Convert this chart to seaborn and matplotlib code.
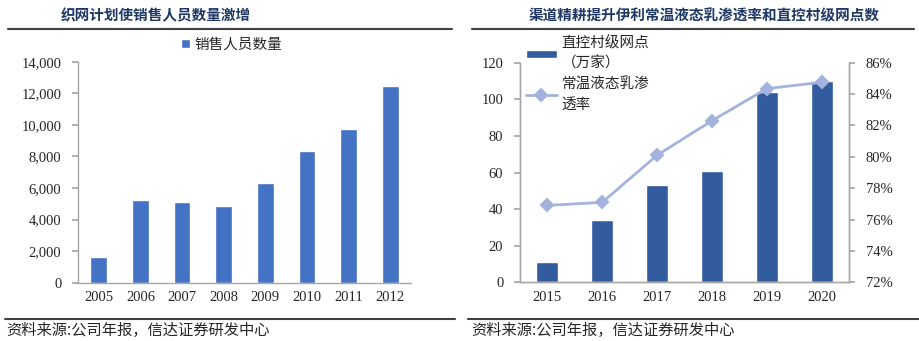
import numpy as np
import pandas as pd
import matplotlib
matplotlib.use("Agg")
import matplotlib.pyplot as plt
from matplotlib.lines import Line2D
import seaborn as sns

# ---- data ----
years_left = ["2005", "2006", "2007", "2008", "2009", "2010", "2011", "2012"]
sales_staff = [1610, 5220, 5090, 4860, 6330, 8320, 9730, 12460]

years_right = ["2015", "2016", "2017", "2018", "2019", "2020"]
village_outlets = [11, 34, 53, 61, 104, 110]          # 万家
penetration = [76.9, 77.1, 80.1, 82.3, 84.35, 84.75]   # %

left_title = "织网计划使销售人员数量激增"
right_title = "渠道精耕提升伊利常温液态乳渗透率和直控村级网点数"
source_text = "资料来源:公司年报，信达证券研发中心"

sns.set_theme(style="white")
plt.rcParams["font.family"] = ["Liberation Serif", "Noto Sans CJK SC", "DejaVu Sans"]
CJK = ["Noto Sans CJK SC", "DejaVu Sans"]

fig = plt.figure(figsize=(9.2, 3.41), dpi=100)
fig.patch.set_facecolor("white")

title_color = "#1F3864"
spine_color = "#A6A6A6"

# ---- left chart ----
axL = fig.add_axes([78/920, 1-282.7/341, 333/920, 221/341])
dfL = pd.DataFrame({"year": years_left, "val": sales_staff})
sns.barplot(data=dfL, x="year", y="val", color="#4472C4", width=0.4, ax=axL,
            saturation=1, label="销售人员数量")
axL.set_ylim(0, 14000)
axL.set_yticks(np.arange(0, 14001, 2000))
axL.set_yticklabels([f"{v:,}" for v in range(0, 14001, 2000)], fontsize=10.5)
axL.set_xlabel("")
axL.set_ylabel("")
axL.set_xlim(-0.5, len(years_left) - 0.5)
axL.tick_params(axis="x", length=0, labelsize=10.5, pad=6)
axL.set_xticks(np.arange(-0.5, len(years_left)), minor=True)
axL.tick_params(axis="x", which="minor", length=4, color=spine_color, direction="out")
axL.tick_params(axis="y", length=4, color=spine_color, direction="out", pad=8, left=True)
for s in ["top", "right"]:
    axL.spines[s].set_visible(False)
for s in ["left", "bottom"]:
    axL.spines[s].set_color(spine_color)
    axL.spines[s].set_linewidth(1)
legL = axL.legend(loc="upper left", bbox_to_anchor=(0.31, 1.11), frameon=False,
                  borderpad=0, borderaxespad=0,
                  handlelength=0.6, handleheight=0.6, handletextpad=0.3,
                  prop={"family": CJK, "size": 10.5})

# ---- right chart ----
axR = fig.add_axes([520/920, 1-282.3/341, 329/920, 219.6/341])
dfR = pd.DataFrame({"year": years_right, "outlets": village_outlets, "pen": penetration})
sns.barplot(data=dfR, x="year", y="outlets", color="#335C9E", width=0.4, ax=axR,
            saturation=1, label="直控村级网点\n（万家）")
axR.set_ylim(0, 120)
axR.set_yticks(np.arange(0, 121, 20))
axR.tick_params(axis="y", labelsize=10.5, length=4, color=spine_color, direction="out", pad=8, left=True)
axR.set_xlabel("")
axR.set_ylabel("")
axR.set_xlim(-0.5, len(years_right) - 0.5)
axR.tick_params(axis="x", length=0, labelsize=10.5, pad=6)
axR.set_xticks(np.arange(-0.5, len(years_right)), minor=True)
axR.tick_params(axis="x", which="minor", length=4, color=spine_color, direction="out")
if axR.get_legend() is not None:
    axR.get_legend().remove()

axR2 = axR.twinx()
sns.pointplot(data=dfR, x="year", y="pen", color="#A3B3DE", markers="D",
              linestyles="-", ax=axR2, label="常温液态乳渗\n透率",
              markersize=6, linewidth=2)
axR2.set_ylim(72, 86)
axR2.set_yticks(np.arange(72, 87, 2))
axR2.set_yticklabels([f"{v}%" for v in range(72, 87, 2)], fontsize=10.5)
axR2.set_ylabel("")
axR2.tick_params(axis="y", length=4, color=spine_color, direction="out", pad=8, right=True)
axR2.set_xlim(-0.5, len(years_right) - 0.5)
axR2.grid(False)
axR.grid(False)

for ax in (axR, axR2):
    ax.spines["top"].set_visible(False)
    for s in ["left", "right", "bottom"]:
        ax.spines[s].set_color(spine_color)
        ax.spines[s].set_linewidth(1)

h1, l1 = axR.get_legend_handles_labels()
h2, l2 = axR2.get_legend_handles_labels()
if axR2.get_legend() is not None:
    axR2.get_legend().remove()
legR = axR2.legend(h1 + h2, l1 + l2, loc="upper left", bbox_to_anchor=(0.018, 1.12),
                   frameon=False, borderpad=0, borderaxespad=0,
                   handlelength=2.1, handleheight=0.5, handletextpad=0.35,
                   labelspacing=0.5, prop={"family": CJK, "size": 10.5})
for t in legR.get_texts():
    t.set_linespacing(1.5)

# ---- titles, rules, sources ----
fig.text(156/920, 1-15/341, left_title, ha="center", va="center", fontsize=10.5,
         fontweight="bold", color=title_color, family=CJK)
fig.text(704/920, 1-15/341, right_title, ha="center", va="center", fontsize=10.5,
         fontweight="bold", color=title_color, family=CJK)
fig.add_artist(Line2D([8/920, 452/920], [1-29/341, 1-29/341], color="#404040", lw=1.5))
fig.add_artist(Line2D([472/920, 914/920], [1-29/341, 1-29/341], color="#404040", lw=1.5))
fig.add_artist(Line2D([5/920, 455/920], [1-319/341, 1-319/341], color="#404040", lw=1.5))
fig.add_artist(Line2D([468/920, 920/920], [1-319/341, 1-319/341], color="#404040", lw=1.5))
fig.text(6/920, 1-330/341, source_text, ha="left", va="center", fontsize=11, family=CJK)
fig.text(471/920, 1-330/341, source_text, ha="left", va="center", fontsize=11, family=CJK)

fig.savefig("out.png", dpi=100)
